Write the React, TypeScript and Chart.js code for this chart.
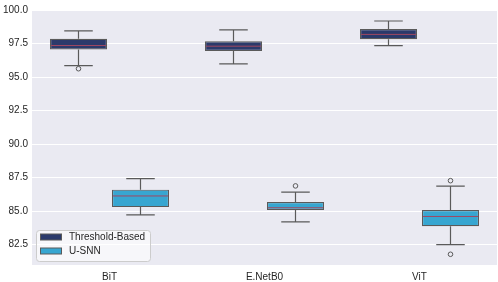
import React, { useEffect, useRef } from "react";
import { Chart, registerables } from "chart.js";

Chart.register(...registerables);

const categories = ["BiT", "E.NetB0", "ViT"];
const seriesNames = ["Threshold-Based", "U-SNN"];

const tbWhiskerLow = [95.85, 95.98, 97.35];
const tbQ1 = [97.05, 96.95, 97.82];
const tbMedian = [97.35, 97.3, 98.18];
const tbQ3 = [97.85, 97.67, 98.58];
const tbWhiskerHigh = [98.45, 98.52, 99.18];
const tbOutliers = [[95.62], [], []];

const snnWhiskerLow = [84.72, 84.2, 82.5];
const snnQ1 = [85.3, 85.08, 83.87];
const snnMedian = [86.13, 85.25, 84.6];
const snnQ3 = [86.6, 85.68, 85.08];
const snnWhiskerHigh = [87.43, 86.42, 86.86];
const snnOutliers = [[], [86.88], [87.27, 81.78]];

const yTicks = [82.5, 85.0, 87.5, 90.0, 92.5, 95.0, 97.5, 100.0];

const colors = ["#2b3a6b", "#37a6d1"];
const edgeColor = "#5a5a5a";
const medianColor = "#a04862";
const FONT = "'Liberation Sans', Arial, sans-serif";

const stats = [
  { low: tbWhiskerLow, q1: tbQ1, med: tbMedian, q3: tbQ3, high: tbWhiskerHigh, out: tbOutliers },
  { low: snnWhiskerLow, q1: snnQ1, med: snnMedian, q3: snnQ3, high: snnWhiskerHigh, out: snnOutliers },
];

const boxPlugin = {
  id: "boxExtras",
  beforeDraw(chart: any) {
    const { ctx, chartArea } = chart;
    ctx.save();
    ctx.fillStyle = "#eaeaf2";
    ctx.fillRect(chartArea.left, chartArea.top, chartArea.right - chartArea.left, chartArea.bottom - chartArea.top);
    ctx.restore();
  },
  afterDatasetsDraw(chart: any) {
    const { ctx } = chart;
    const y = chart.scales.y;
    stats.forEach((s, d) => {
      const meta = chart.getDatasetMeta(d);
      meta.data.forEach((el: any, i: number) => {
        const x = el.x;
        const w = el.width;
        ctx.save();
        ctx.strokeStyle = edgeColor;
        ctx.lineWidth = 1.2;
        ctx.beginPath();
        ctx.moveTo(x, y.getPixelForValue(s.q3[i]));
        ctx.lineTo(x, y.getPixelForValue(s.high[i]));
        ctx.moveTo(x, y.getPixelForValue(s.q1[i]));
        ctx.lineTo(x, y.getPixelForValue(s.low[i]));
        ctx.moveTo(x - w / 4, y.getPixelForValue(s.high[i]));
        ctx.lineTo(x + w / 4, y.getPixelForValue(s.high[i]));
        ctx.moveTo(x - w / 4, y.getPixelForValue(s.low[i]));
        ctx.lineTo(x + w / 4, y.getPixelForValue(s.low[i]));
        ctx.stroke();
        ctx.strokeStyle = medianColor;
        ctx.lineWidth = 1;
        ctx.beginPath();
        const my = y.getPixelForValue(s.med[i]);
        ctx.moveTo(x - w / 2 + 1, my);
        ctx.lineTo(x + w / 2 - 1, my);
        ctx.stroke();
        ctx.strokeStyle = edgeColor;
        ctx.lineWidth = 1;
        s.out[i].forEach((v: number) => {
          ctx.beginPath();
          ctx.arc(x, y.getPixelForValue(v), 2.3, 0, Math.PI * 2);
          ctx.stroke();
        });
        ctx.restore();
      });
    });
  },
  afterDraw(chart: any) {
    const { ctx } = chart;
    ctx.save();
    const lx = 36.5, ly = 230.5, lw = 114, lh = 31;
    ctx.fillStyle = "rgba(255,255,255,0.6)";
    ctx.strokeStyle = "#cccccc";
    ctx.lineWidth = 1;
    ctx.beginPath();
    (ctx as any).roundRect(lx, ly, lw, lh, 3);
    ctx.fill();
    ctx.stroke();
    ctx.font = `10px ${FONT}`;
    ctx.textBaseline = "middle";
    ctx.textAlign = "left";
    seriesNames.forEach((name, k) => {
      const cy = 237 + k * 14;
      ctx.fillStyle = colors[k];
      ctx.fillRect(40.5, cy - 3, 21, 6);
      ctx.strokeStyle = edgeColor;
      ctx.strokeRect(40.5, cy - 3, 21, 6);
      ctx.fillStyle = "#262626";
      ctx.fillText(name, 69, cy + 0.5);
    });
    ctx.restore();
  },
};

export default function App() {
  const ref = useRef<HTMLCanvasElement>(null);
  useEffect(() => {
    if (!ref.current) return;
    const chart = new Chart(ref.current, {
      type: "bar",
      data: {
        labels: categories,
        datasets: stats.map((s, d) => ({
          label: seriesNames[d],
          data: categories.map((_, i) => [s.q1[i], s.q3[i]] as any),
          backgroundColor: colors[d],
          borderColor: edgeColor,
          borderWidth: 1.2,
          borderSkipped: false,
          barPercentage: 0.92,
          categoryPercentage: 0.8,
        })),
      },
      options: {
        responsive: false,
        animation: false,
        layout: { padding: { top: 4, right: 1, left: 0, bottom: 0 } },
        plugins: { legend: { display: false }, tooltip: { enabled: false } },
        scales: {
          x: {
            grid: { display: false, drawTicks: false },
            border: { display: false },
            ticks: { color: "#262626", font: { family: FONT, size: 10 }, padding: 6 },
            afterFit: (s: any) => { s.height = 17; },
          },
          y: {
            min: 80.98,
            max: 100.0,
            grid: { color: "#ffffff", lineWidth: 1, drawTicks: false },
            border: { display: false },
            ticks: {
              color: "#262626",
              font: { family: FONT, size: 10 },
              padding: 4,
              callback: (v: any) => Number(v).toFixed(1),
            },
            afterBuildTicks: (s: any) => { s.ticks = yTicks.map((v) => ({ value: v })); },
            afterFit: (s: any) => { s.width = 32; },
          },
        },
      },
      plugins: [boxPlugin],
    });
    return () => chart.destroy();
  }, []);
  return (
    <div style={{ position: "absolute", left: 0, top: 0, width: 498, height: 282 }}>
      <canvas ref={ref} width={498} height={282} style={{ display: "block" }} />
    </div>
  );
}
